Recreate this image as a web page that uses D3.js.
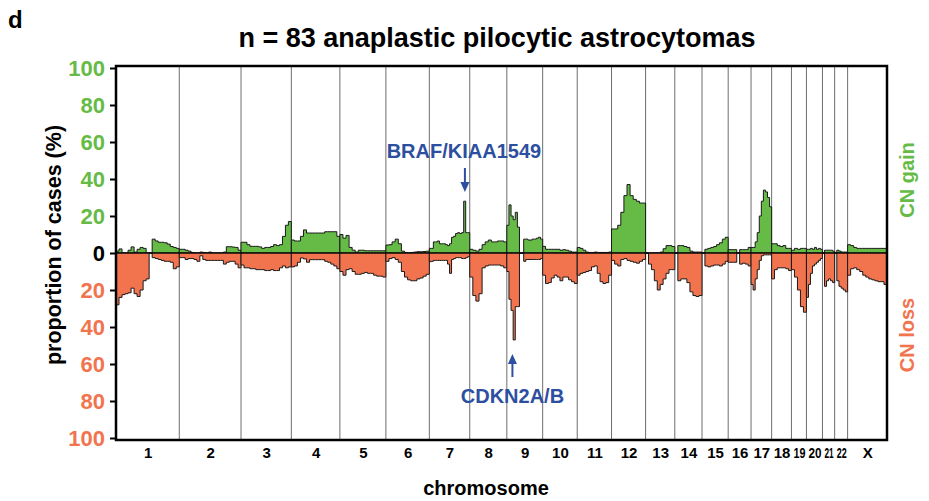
<!DOCTYPE html>
<html><head><meta charset="utf-8">
<script src="https://cdn.jsdelivr.net/npm/d3@7"></script>
<style>
body{margin:0;background:#fff;}
text{font-family:"Liberation Sans",Arial,Helvetica,sans-serif;font-weight:bold;}
</style>
</head><body>
<svg id="chart" width="929" height="501"></svg>
<script>
// ---------- data ----------
const chromosomes = ["1","2","3","4","5","6","7","8","9","10","11","12","13","14","15","16","17","18","19","20","21","22","X"];
const chromLengthsMb = [249,243,198,191,181,171,159,146,141,136,135,134,115,107,103,90,81,78,59,63,48,51,155];

// proportion of cases (%) with copy-number gain, evenly sampled along each chromosome
const gainValues = [
  [1,2.2,0,0,1.5,3.3,0.5,2,3,2.5,0,0,7.5,6.5,5.8,5.8,5.5,4.8,3.5,3,2.5],
  [2,2,1.5,1,0.3,0,0,0.5,0.3,0,0.5,0,0,0,0,0.5,3.4,3.4,3.2,3,1.5],
  [5.8,5.8,4.5,3.6,3.6,3.6,3.3,2.5,3,3,3.5,4.5,4,4.5,9,15,17],
  [7,6.5,6.5,9,12.5,10.8,10.8,10.8,10.8,10.8,10.8,11.5,11.5,11.5,11.5,9],
  [10,8,9.5,3,1.5,0.5,1.5,1.5,1.2,1.2,1.2,1.2,1.2,1.2,1.2],
  [4.3,4.5,6,7.5,5,1,0.3,0,0.3,0.5,0.7,0.7,0.8,1],
  [2.5,2.5,6,6,6.5,5,5,5,4.5,4,5,8.5,9,10.5,11,10.5,11,28,11,11],
  [2,1.5,1,2,4.5,6,7,6,6,6.5,6.5,6],
  [15,26,20,18,22,14,0,0,7.5,7.5,7,7,7.5,7.5,8,8.5,7.5],
  [3.6,2,2,2,2,2,1.5,1.8,1.5,1,0.5,0.5],
  [3,2.5,1.5,0.5,0.3,0.3,0.5,0.3,0.3,0.3,0.3,0.5],
  [13,13,15,22,31,37,31,29,28,27,27],
  [0,0,0,0,0,0.5,2.3,4,4,3.5],
  [0,4,4,3.5,3,1,0.5,0.5,0.5],
  [0,2,2.5,3,3.5,4.5,5.5,7.5,8.5],
  [1.8,1.8,1.8,0,1.8,1.8,1.8,3],
  [3,3,6,11,20,28,34,33,30,25],
  [5,5,4,3.5,4,2.5,2.5],
  [1.5,2.5,2,2.5,2.5],
  [2,2,2.5,2,3,2,2.5,2],
  [0,1.5,1.5,1.5,1.5,1],
  [0,1.5,1,0.5,0.5,0.5],
  [4.5,4,3,2.5,2.5,2.5,2.5,2.5,2.5,2.5,2.5,2.5,2.5]
];

// proportion of cases (%) with copy-number loss, evenly sampled along each chromosome
const lossValues = [
  [28,24,22.5,22,21.5,19,22,23.5,20,15,14,0,2.5,3,3.5,4,4.5,4.5,5,8.5,7.5],
  [2.5,2.5,3.5,3,3,3.5,4.5,1.5,3.5,4,4,4,4,4,4,6,5,4.5,4.5,6,8],
  [6.5,8,8,8.5,8.5,9,9,9,9.5,9.5,9,9.5,9.5,8,7,8,7.5],
  [7.5,7,5,2.7,3.2,5,3.6,3.6,3.6,3.6,3.6,4.5,5,6,7,8.5],
  [10,12,9,8.5,10,11.5,11.5,11,10.5,11,11,12,12.5,12.5,13],
  [4.5,3,2.5,3.5,5,10,13,14.5,15,15,14,13.5,12.5,11.5],
  [4.7,4.5,4,4,4,4,4,4,4,6,11,3.5,3,2.5,2.5,2.5,3,3,2.5,2],
  [13,23,26,22,8,7,6.5,6.5,6.5,6.5,7,8],
  [10,25,31,47,29,29,0,0,4.5,3.5,3.5,3.5,3.5,3.5,3.5,3.5,3],
  [12,16.5,16,13.5,12,13,15,13,13,14.5,15.5,16.5],
  [12,11,10.5,10,9.5,7.5,7,11,15.5,16.5,16,12],
  [4,6,7,3.5,3,4,4.5,5,5.5,4.5,3.5],
  [0,6,9,15,20,17,14,11,9,9],
  [0,15,14,14,16,21,23,23.5,23],
  [0,7,7.5,7,6.5,6.5,7,6,4.5],
  [5,5,5,0,6,5.5,6,7],
  [17,20,14,9,4,1.5,1,1,1,1],
  [14,9,8,8,8,8.5,9.5],
  [9,13,20,29,32],
  [24,17,11,7,6,5,4,3],
  [0,18,15,14,15,16],
  [0,15,18,19,20,21],
  [12,8.5,8,9,10,12,13,14,14.5,15,15.5,15.5,17]
];

const yTickValues = [100,80,60,40,20,0,-20,-40,-60,-80,-100];
const annotations = [
  {label:"BRAF/KIAA1549", chrom:"7", posMb:140, dir:"down"},
  {label:"CDKN2A/B", chrom:"9", posMb:22, dir:"up"}
];

// ---------- layout ----------
const colGain = "#66bb46", colLoss = "#f2744f", colBlue = "#2d4fa0";
const plot = {left:116, right:887, top:68, bottom:438};
const svg = d3.select("#chart");

const starts = [];
let acc = 0;
chromLengthsMb.forEach(l => { starts.push(acc); acc += l; });
const totalMb = acc;

const x = d3.scaleLinear().domain([0,totalMb]).range([plot.left, plot.right]);
const y = d3.scaleLinear().domain([-100,100]).range([plot.bottom, plot.top]);

// chromosome separators
svg.append("g").selectAll("line").data(starts.slice(1)).join("line")
  .attr("x1", d => x(d)).attr("x2", d => x(d))
  .attr("y1", plot.top - 2).attr("y2", plot.bottom + 2)
  .attr("stroke", "#6e6e6e").attr("stroke-width", 1);

// profile areas
function seriesPoints(vals, ci, sign) {
  const s = starts[ci], L = chromLengthsMb[ci], n = vals.length;
  const pts = vals.map((v,j) => ({pos: s + L*j/n, v: sign*v}));
  pts.push({pos: s + L, v: sign*vals[n-1]});
  return pts;
}
const area = d3.area().curve(d3.curveStepAfter)
  .x(d => x(d.pos)).y0(y(0)).y1(d => y(d.v));

const gArea = svg.append("g");
chromosomes.forEach((c, ci) => {
  gArea.append("path").datum(seriesPoints(gainValues[ci], ci, 1))
    .attr("d", area).attr("fill", colGain)
    .attr("stroke", "#1a1a1a").attr("stroke-width", 1).attr("stroke-linejoin","miter");
  gArea.append("path").datum(seriesPoints(lossValues[ci], ci, -1))
    .attr("d", area).attr("fill", colLoss)
    .attr("stroke", "#1a1a1a").attr("stroke-width", 1).attr("stroke-linejoin","miter");
});

// zero line
svg.append("line").attr("x1", plot.left).attr("x2", plot.right)
  .attr("y1", y(0)).attr("y2", y(0)).attr("stroke", "#000").attr("stroke-width", 1);

// frame
svg.append("rect").attr("x", plot.left).attr("y", plot.top - 2)
  .attr("width", plot.right - plot.left).attr("height", plot.bottom - plot.top + 4)
  .attr("fill", "none").attr("stroke", "#000").attr("stroke-width", 2.5);

// y axis
const yAxis = d3.axisLeft(y).tickValues(yTickValues).tickSize(6).tickPadding(5)
  .tickFormat(d => Math.abs(d));
const gy = svg.append("g").attr("transform", `translate(${plot.left},0)`).call(yAxis);
gy.select(".domain").remove();
gy.selectAll(".tick line").attr("stroke", "#000").attr("stroke-width", 2);
gy.selectAll(".tick text")
  .attr("font-size", 22).attr("font-family", "Liberation Sans, Arial, sans-serif")
  .attr("font-weight", "bold")
  .attr("fill", d => d > 0 ? colGain : (d < 0 ? colLoss : "#000"));

// x axis labels (chromosome centres)
const xAxis = d3.axisBottom(x).tickValues(starts.map((s,i) => s + chromLengthsMb[i]/2))
  .tickSize(0).tickPadding(7).tickFormat((d,i) => chromosomes[i]);
const gx = svg.append("g").attr("transform", `translate(0,${plot.bottom + 2})`).call(xAxis);
gx.select(".domain").remove();
gx.selectAll(".tick text").attr("font-size", 15).attr("font-weight", "bold")
  .attr("font-family", "Liberation Sans, Arial, sans-serif").attr("fill", "#000")
  .each(function(d, i) {
    const w = x(starts[i] + chromLengthsMb[i]) - x(starts[i]);
    const tw = this.getComputedTextLength();
    if (tw > w - 3) {
      const k = (w - 3) / tw;
      d3.select(this).attr("transform", `scale(${k},1)`);
    }
  });

// titles
svg.append("text").attr("x", 8).attr("y", 28).attr("font-size", 24).text("d");
svg.append("text").attr("x", 497).attr("y", 47).attr("text-anchor", "middle")
  .attr("font-size", 27).text("n = 83 anaplastic pilocytic astrocytomas");
svg.append("text").attr("x", 486).attr("y", 495).attr("text-anchor", "middle")
  .attr("font-size", 20).text("chromosome");
svg.append("text").attr("transform", "translate(61,245) rotate(-90)")
  .attr("text-anchor", "middle").attr("font-size", 21.5).text("proportion of cases (%)");
svg.append("text").attr("transform", "translate(914,180) rotate(-90)")
  .attr("text-anchor", "middle").attr("font-size", 20).attr("fill", colGain).text("CN gain");
svg.append("text").attr("transform", "translate(914,335) rotate(-90)")
  .attr("text-anchor", "middle").attr("font-size", 20).attr("fill", colLoss).text("CN loss");

// annotations
annotations.forEach(a => {
  const ci = chromosomes.indexOf(a.chrom);
  const ax = x(starts[ci] + a.posMb);
  const g = svg.append("g").attr("fill", colBlue);
  if (a.dir === "down") {
    g.append("text").attr("x", ax - 1).attr("y", 158).attr("text-anchor", "middle")
      .attr("font-size", 20).text(a.label);
    g.append("line").attr("x1", ax).attr("x2", ax).attr("y1", 168).attr("y2", 186)
      .attr("stroke", colBlue).attr("stroke-width", 2);
    g.append("path").attr("d", `M${ax-4.5},${182} L${ax+4.5},${182} L${ax},${192} Z`);
  } else {
    g.append("text").attr("x", ax).attr("y", 403).attr("text-anchor", "middle")
      .attr("font-size", 20).text(a.label);
    g.append("line").attr("x1", ax).attr("x2", ax).attr("y1", 377).attr("y2", 360)
      .attr("stroke", colBlue).attr("stroke-width", 2);
    g.append("path").attr("d", `M${ax-4.5},${364} L${ax+4.5},${364} L${ax},${354} Z`);
  }
});
</script>
</body></html>
